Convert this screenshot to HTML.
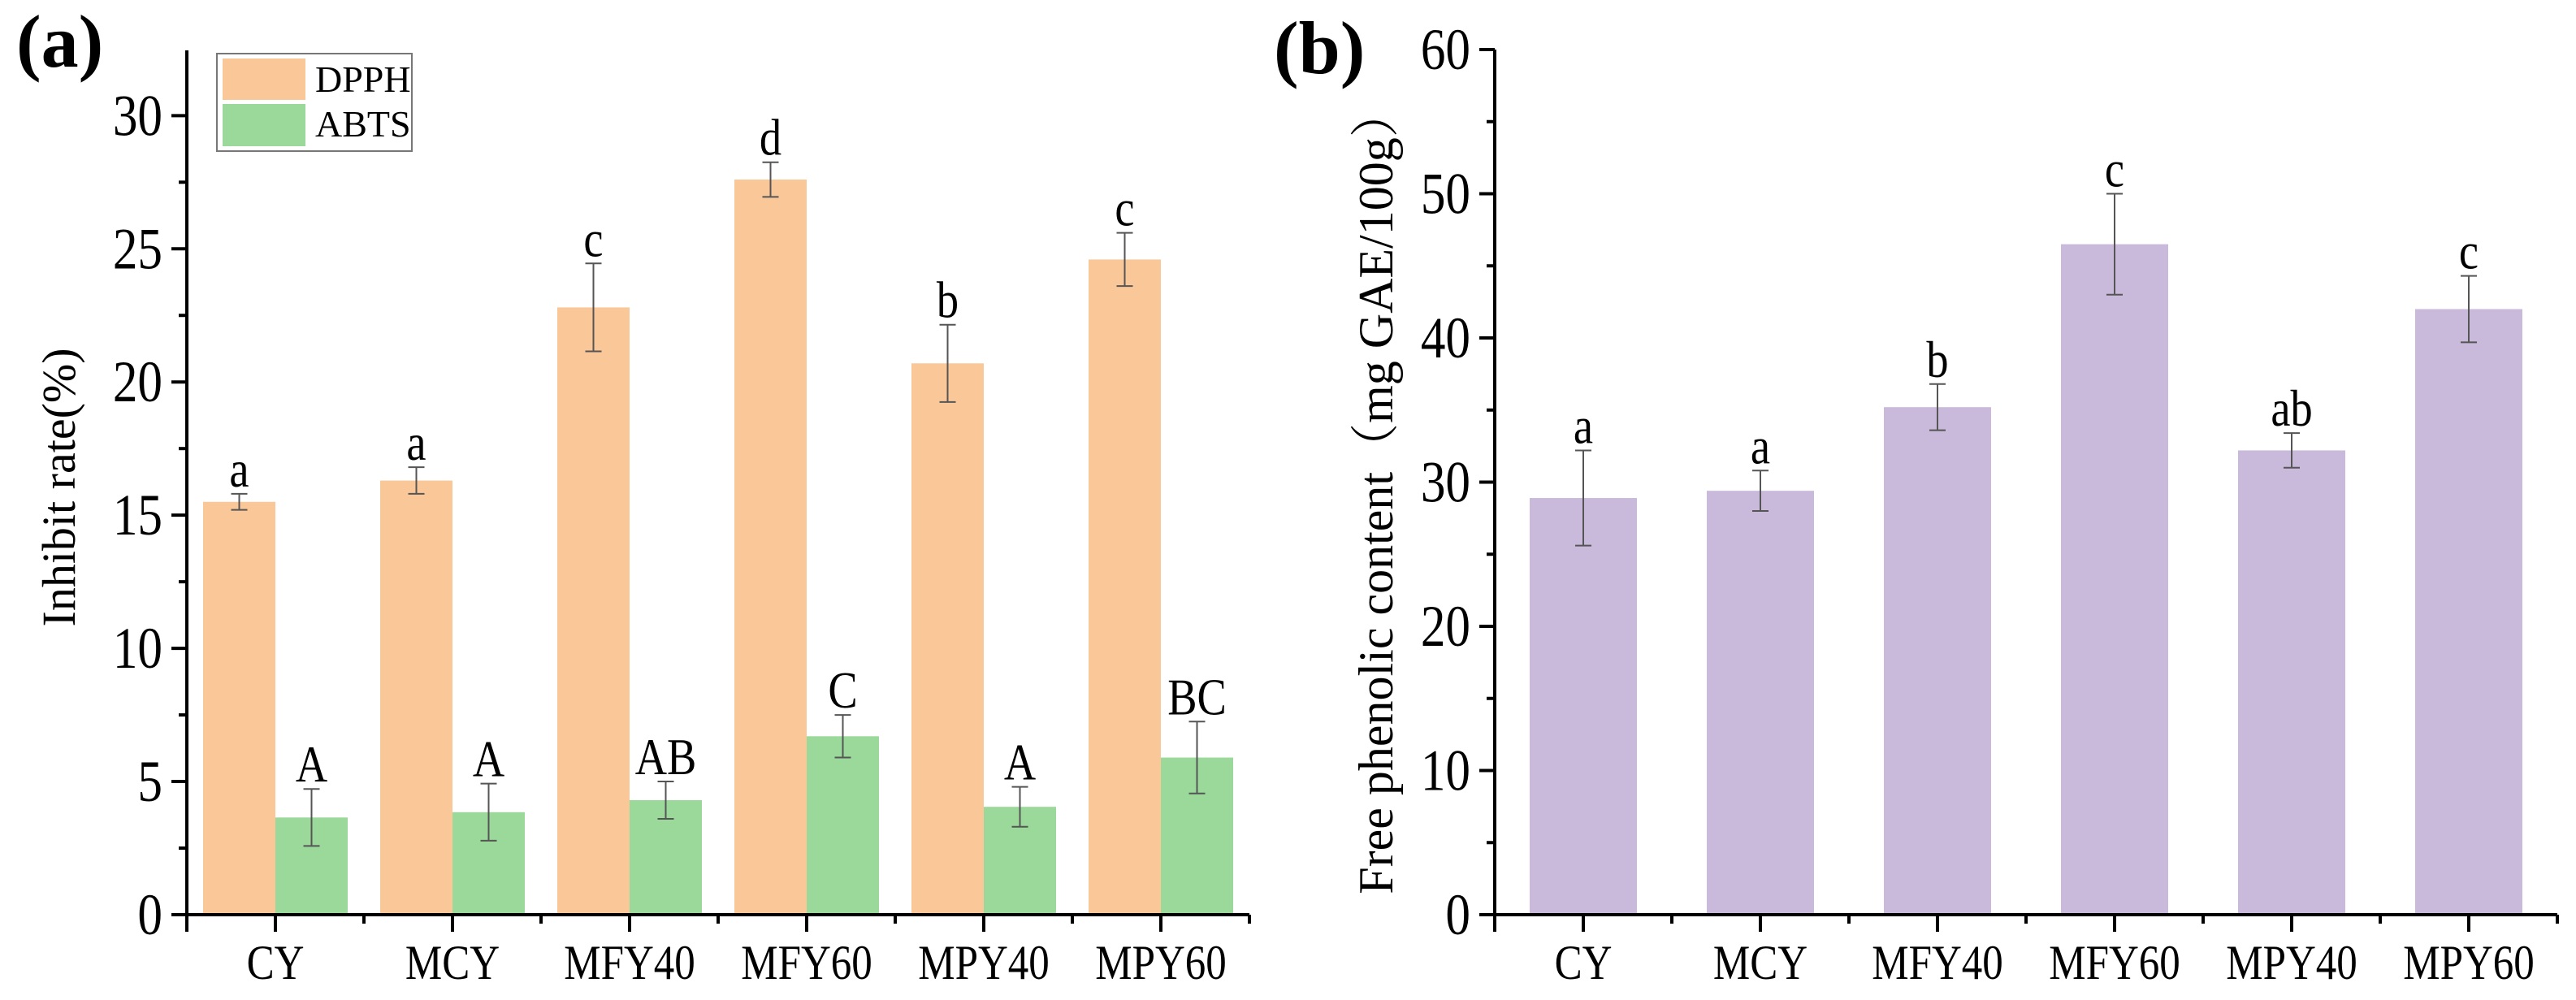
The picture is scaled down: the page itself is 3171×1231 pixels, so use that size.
<!DOCTYPE html>
<html><head><meta charset="utf-8"><style>
html,body{margin:0;padding:0;background:#fff;}
svg{display:block;font-family:"Liberation Serif","Noto Serif CJK SC",serif;}
</style></head><body>
<svg id="chart" width="3171" height="1231" viewBox="0 0 3171 1231" xmlns="http://www.w3.org/2000/svg">
<text x="20" y="82" font-size="92" font-weight="bold">(a)</text>
<text x="1568" y="90" font-size="92" font-weight="bold">(b)</text>
<text transform="translate(92,600) rotate(-90)" text-anchor="middle" font-size="58">Inhibit rate(%)</text>
<text transform="translate(1714,605) rotate(-90)" text-anchor="middle" font-size="60">Free phenolic content（mg GAE/100g）</text>
<g>
<rect x="267" y="66" width="240" height="120" fill="#fff" stroke="#777" stroke-width="2"/>
<rect x="274" y="72" width="102" height="51" fill="#FAC898"/>
<rect x="274" y="128" width="102" height="52" fill="#9AD99A"/>
<text x="388" y="113" font-size="46">DPPH</text>
<text x="388" y="168" font-size="46">ABTS</text>
</g>
<g id="pa"></g><g id="pb"></g>
</svg>
<script>
const categories = ["CY","MCY","MFY40","MFY60","MPY40","MPY60"];
const dpphValues = [15.5,16.3,22.8,27.6,20.7,24.6];
const dpphErrors = [0.3,0.5,1.65,0.65,1.45,1.0];
const dpphLetters = ["a","a","c","d","b","c"];
const abtsValues = [3.65,3.85,4.3,6.7,4.05,5.9];
const abtsErrors = [1.07,1.07,0.7,0.8,0.75,1.35];
const abtsLetters = ["A","A","AB","C","A","BC"];
const phenolicValues = [28.9,29.4,35.2,46.5,32.2,42.0];
const phenolicErrors = [3.3,1.4,1.6,3.5,1.2,2.3];
const phenolicLetters = ["a","a","b","c","ab","c"];
const ticksA = [0,5,10,15,20,25,30];
const ticksB = [0,10,20,30,40,50,60];

const NS="http://www.w3.org/2000/svg";
function mk(parent,tag,attrs,text){const e=document.createElementNS(NS,tag);for(const k in attrs)e.setAttribute(k,attrs[k]);if(text!==undefined)e.textContent=text;parent.appendChild(e);return e;}
function ctext(parent,x,y,size,anchor,str){
  return mk(parent,"text",{transform:`translate(${x},${y}) scale(0.85,1)`,"font-size":size,"text-anchor":anchor},str);
}
function panel(x0,yMax,yTop){
  const y0=1126, step=218;
  const yS=v=>y0-(y0-yTop)*v/yMax;
  const xC=i=>x0+step*(i+0.5);
  const xEnd=x0+step*categories.length;
  return {yS,xC,xEnd,y0,step};
}
function axes(g,x0,yTop,yMax,ticks,minorStep,P,id){
  let l=mk(g,"line",{x1:x0,y1:yTop,x2:x0,y2:P.y0+21,stroke:"#000","stroke-width":4});
  
  
  l=mk(g,"line",{x1:x0-19,y1:P.y0,x2:P.xEnd,y2:P.y0,stroke:"#000","stroke-width":4});
  
  
  ticks.forEach(t=>{
    const y=P.yS(t);
    const tk=mk(g,"line",{x1:x0-19,y1:y,x2:x0,y2:y,stroke:"#000","stroke-width":4});
    
    
    const tx=ctext(g,x0-30,y+24,72,"end",String(t));
    
    
    const ym=P.yS(t+minorStep);
    if(t+minorStep<=yMax+0.01){
      const mt=mk(g,"line",{x1:x0-10,y1:ym,x2:x0,y2:ym,stroke:"#000","stroke-width":4});
      
      
    }
  });
  categories.forEach((c,i)=>{
    const x=P.xC(i);
    const tk=mk(g,"line",{x1:x,y1:P.y0,x2:x,y2:P.y0+21,stroke:"#000","stroke-width":4});
    
    
    const bx=x+P.step/2;
    const mt=mk(g,"line",{x1:bx,y1:P.y0,x2:bx,y2:P.y0+11,stroke:"#000","stroke-width":4});
    
    
    const tx=ctext(g,x,1205,60,"middle",c);
    
    
  });
}
function bar(g,xl,w,v,e,letter,color,P,name){
  const yt=P.yS(v);
  const r=mk(g,"rect",{x:xl,y:yt,width:w,height:P.y0-yt,fill:color});
  
  
  const xm=xl+w/2, y1=P.yS(v+e), y2=P.yS(v-e);
  const eb=mk(g,"path",{d:`M${xm},${y1}V${y2}M${xm-10},${y1}H${xm+10}M${xm-10},${y2}H${xm+10}`,stroke:"#555","stroke-width":2,fill:"none"});
  
  
  const t=ctext(g,xm,y1-9,64,"middle",letter);
  
  
}
// Panel A
const gA=document.getElementById("pa");
const yMaxA=32.45, topA=62, xA=230;
const PA=panel(xA,yMaxA,topA);
categories.forEach((c,i)=>{
  const xc=PA.xC(i);
  bar(gA,xc-89,89,dpphValues[i],dpphErrors[i],dpphLetters[i],"#FAC898",PA,"bar-dpph-"+c.toLowerCase());
  bar(gA,xc,89,abtsValues[i],abtsErrors[i],abtsLetters[i],"#9AD99A",PA,"bar-abts-"+c.toLowerCase());
});
axes(gA,xA,topA,yMaxA,ticksA,2.5,PA,"a");
// Panel B
const gB=document.getElementById("pb");
const yMaxB=60, topB=61, xB=1840;
const PB=panel(xB,yMaxB,topB);
categories.forEach((c,i)=>{
  const xc=PB.xC(i);
  bar(gB,xc-66,132,phenolicValues[i],phenolicErrors[i],phenolicLetters[i],"#C9BADB",PB,"bar-phenolic-"+c.toLowerCase());
});
axes(gB,xB,topB,yMaxB,ticksB,5,PB,"b");
</script>
</body></html>
